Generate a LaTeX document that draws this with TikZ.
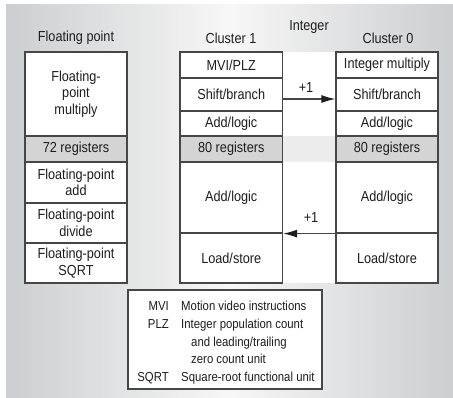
\documentclass[tikz,border=0pt]{standalone}
\usepackage{fontspec}
\setmainfont{Liberation Sans}[FakeStretch=0.875]
\usetikzlibrary{arrows.meta}
\definecolor{bgedge}{RGB}{205,206,208}
\definecolor{bgmid}{RGB}{247,247,247}
\definecolor{edge}{RGB}{70,70,70}
\definecolor{regfill}{RGB}{212,212,212}
\definecolor{band}{RGB}{236,236,236}
\definecolor{ink}{RGB}{30,30,30}
\tikzset{
  cell/.style={draw=edge, line width=1.2pt, fill=white, inner sep=0pt,
               align=center, minimum width=#1},
  cell/.default=102,
  regcell/.style={cell=#1, fill=regfill},
  regcell/.default=102,
  title/.style={inner sep=0pt},
  conn/.style={draw=edge, line width=1.2pt, -{Latex[length=14pt,width=8pt,color=ink]}},
  legtext/.style={inner sep=0pt, font=\fontsize{13}{15}\selectfont},
}
\begin{document}
\begin{tikzpicture}[x=1pt, y=-1pt, font=\fontsize{14.5}{16.5}\selectfont, text=ink]
\useasboundingbox (0,0) rectangle (453,398);
% backdrop
\shade[left color=bgedge, right color=bgedge, middle color=bgmid]
  (6,5) rectangle (453,398);
% integer unit strip between the two clusters
\fill[white] (283,52) rectangle (336,283);
\fill[band] (283,136) rectangle (336,162);

% column headings
\node[title] (hfp)  at (76,38)  {Floating point};
\node[title] (hc1)  at (231,38) {Cluster 1};
\node[title] (hint) at (309,27) {Integer};
\node[title] (hc0)  at (388,38) {Cluster 0};

% floating-point column
\node[cell, minimum height=84] (fpmul) at (76,94) {Floating-\\point\\multiply};
\node[regcell, minimum height=26] (fpreg) at (76,149) {72 registers};
\node[cell, minimum height=41] (fpadd) at (76,182.5) {Floating-point\\add};
\node[cell, minimum height=40] (fpdiv) at (76,223) {Floating-point\\divide};
\node[cell, minimum height=40] (fpsqrt) at (76,263) {Floating-point\\SQRT};

% integer cluster 1
\node[cell=102.5, minimum height=26] (c1mvi)   at (231.25,65)    {MVI/PLZ};
\node[cell=102.5, minimum height=33] (c1shift) at (231.25,94.5)  {Shift/branch};
\node[cell=102.5, minimum height=25] (c1add)   at (231.25,123.5) {Add/logic};
\node[regcell=102.5, minimum height=26] (c1reg) at (231.25,149)  {80 registers};
\node[cell=102.5, minimum height=71] (c1add2)  at (231.25,197.5) {Add/logic};
\node[cell=102.5, minimum height=50] (c1ls)    at (231.25,258)   {Load/store};

% integer cluster 0
\node[cell, minimum height=26] (c0mul)   at (387,65)    {Integer multiply};
\node[cell, minimum height=33] (c0shift) at (387,94.5)  {Shift/branch};
\node[cell, minimum height=25] (c0add)   at (387,123.5) {Add/logic};
\node[regcell, minimum height=26] (c0reg) at (387,149)  {80 registers};
\node[cell, minimum height=71] (c0add2)  at (387,197.5) {Add/logic};
\node[cell, minimum height=50] (c0ls)    at (387,258)   {Load/store};

% one-cycle cross-cluster transfers
\draw[conn] ([yshift=-4.5pt]c1shift.east) -- ([yshift=-4.5pt]c0shift.west);
\node[title] (lat1) at (306,88) {+1};
\draw[conn] (c0add2.south west) -- (c1add2.south east);
\node[title] (lat2) at (311,218) {+1};

% legend
\node[draw=edge, line width=1.2pt, fill=white, minimum width=194,
      minimum height=99, inner sep=0pt] (legend) at (225,339.5) {};
\node[legtext, anchor=base east] (kmvi)  at (169,310.5) {MVI};
\node[legtext, anchor=base west] (dmvi)  at (181,310.5) {Motion video instructions};
\node[legtext, anchor=base east] (kplz)  at (169,328.5) {PLZ};
\node[legtext, anchor=base west] (dplz)  at (181,328.5) {Integer population count};
\node[legtext, anchor=base west] (dplz2) at (191,346.5) {and leading/trailing};
\node[legtext, anchor=base west] (dplz3) at (191,363.5) {zero count unit};
\node[legtext, anchor=base east] (ksqrt) at (169,381.5) {SQRT};
\node[legtext, anchor=base west] (dsqrt) at (181,381.5) {Square-root functional unit};
\end{tikzpicture}
\end{document}
